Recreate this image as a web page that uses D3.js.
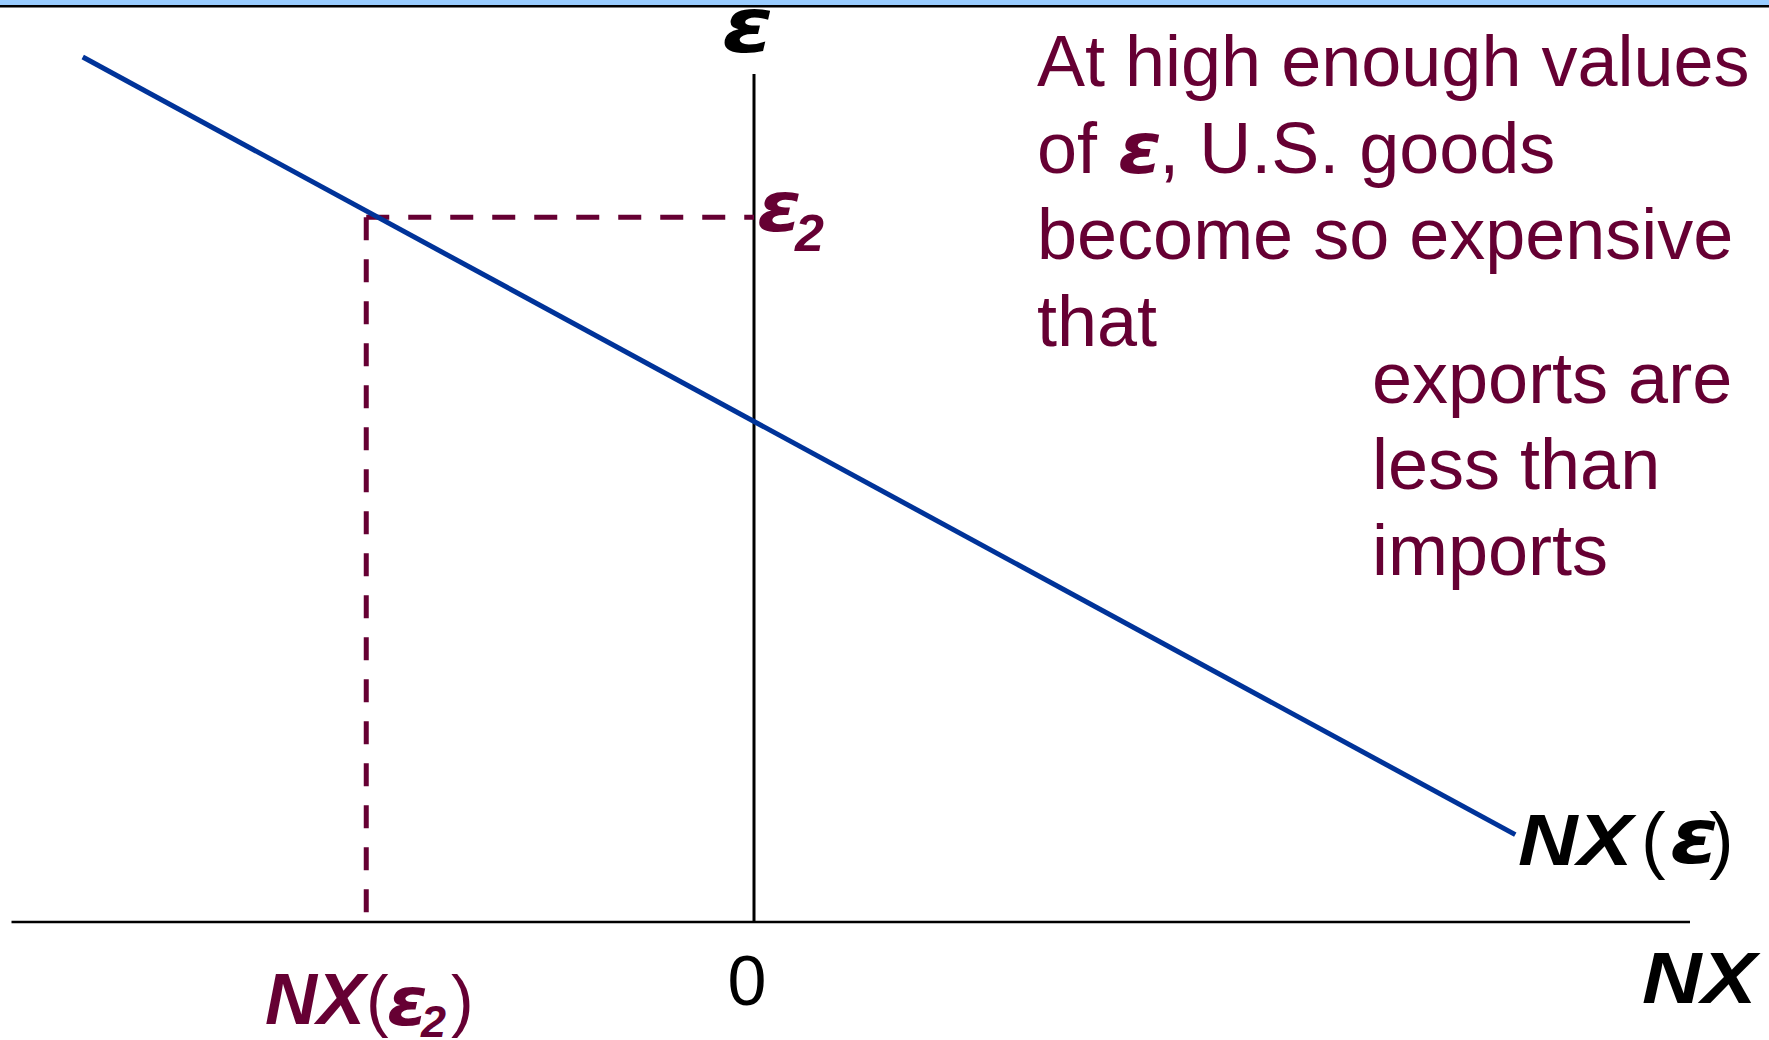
<!DOCTYPE html>
<html>
<head>
<meta charset="utf-8">
<script src="https://cdn.jsdelivr.net/npm/d3@7"></script>
<style>
  html, body { margin: 0; padding: 0; background: #fff; }
  svg { display: block; font-family: "Liberation Sans", Arial, sans-serif; }
</style>
</head>
<body>
<svg id="chart" width="1769" height="1040"></svg>
<script>
// Net exports schedule NX(ε): NX on the horizontal axis, real exchange rate ε on the vertical
const nxRange = [-9.9, 12.48];        // horizontal axis extent (NX units)
const epsRange = [0, 10];             // vertical axis extent (ε units)
const curveNX = [-8.95, 10.15];       // NX at the two ends of the schedule
const curveEps = [10.2, 1.03];        // ε at the two ends of the schedule
const eps2 = 8.31;                    // the high exchange rate ε2
const nxAtEps2 = -5.17;               // net exports at ε2
const zeroTick = ["0"];

const noteBlockA = ["At high enough values", "of |ε|, U.S. goods", "become so expensive", "that"];
const noteBlockB = ["exports are", "less than", "imports"];

const maroon = "#660033";
const blue = "#003399";
const greekFont = "'DejaVu Sans', 'Liberation Sans', sans-serif";

const svg = d3.select("#chart");
const W = 1769;

const x = d3.scaleLinear().domain([-10, 12.5]).range([4, 1691.5]);
const y = d3.scaleLinear().domain(epsRange).range([922, 74]);

// header band
svg.append("rect").attr("x", 0).attr("y", 0).attr("width", W).attr("height", 5).attr("fill", "#99ccff");
svg.append("rect").attr("x", 0).attr("y", 5).attr("width", W).attr("height", 2.5).attr("fill", "#000");

// axes
svg.append("line")
  .attr("x1", x(nxRange[0])).attr("x2", x(nxRange[1]))
  .attr("y1", y(0)).attr("y2", y(0))
  .attr("stroke", "#000").attr("stroke-width", 2.5);
svg.append("line")
  .attr("x1", x(0)).attr("x2", x(0))
  .attr("y1", y(epsRange[0])).attr("y2", y(epsRange[1]))
  .attr("stroke", "#000").attr("stroke-width", 3);

// guide lines at ε2
svg.append("line")
  .attr("x1", x(nxAtEps2)).attr("x2", x(0))
  .attr("y1", y(eps2)).attr("y2", y(eps2))
  .attr("stroke", maroon).attr("stroke-width", 5).attr("stroke-dasharray", "23,19");
svg.append("line")
  .attr("x1", x(nxAtEps2)).attr("x2", x(nxAtEps2))
  .attr("y1", y(eps2)).attr("y2", y(0))
  .attr("stroke", maroon).attr("stroke-width", 5).attr("stroke-dasharray", "23,19");

// NX(ε) schedule
const pts = curveNX.map((v, i) => [v, curveEps[i]]);
svg.append("path")
  .datum(pts)
  .attr("d", d3.line().x(d => x(d[0])).y(d => y(d[1])))
  .attr("fill", "none").attr("stroke", blue).attr("stroke-width", 5);

// one piece of a label: bold-italic pieces may be widened with sx
function piece(xp, yp, str, o) {
  const t = svg.append("text")
    .attr("transform", `translate(${xp},${yp}) scale(${o.sx || 1},1)`)
    .attr("font-size", o.size)
    .attr("font-weight", o.bold ? "bold" : "normal")
    .attr("font-style", o.bold ? "italic" : "normal")
    .attr("fill", o.fill || "#000")
    .text(str);
  if (o.greek) t.attr("font-family", greekFont);
  if (o.anchor) t.attr("text-anchor", o.anchor);
  return t;
}

// ε axis title
piece(722, 52, "ε", {size: 76, bold: true, greek: true, sx: 1.22});
// NX axis title
piece(1642, 1003, "NX", {size: 73, bold: true, sx: 1.13});

// NX(ε) curve label
piece(1518, 865, "NX", {size: 73, bold: true, sx: 1.13});
piece(1641, 865, "(", {size: 74});
piece(1670, 863, "ε", {size: 76, bold: true, greek: true, sx: 1.15});
piece(1709, 865, ")", {size: 74});

// zero on the NX axis
piece(x(0) - 7, 1005, zeroTick[0], {size: 70, anchor: "middle"});

// ε2 label on the vertical axis
piece(x(0) + 3, y(eps2) + 14, "ε", {size: 70, bold: true, greek: true, sx: 1.15, fill: maroon});
piece(x(0) + 41, y(eps2) + 34, "2", {size: 52, bold: true, fill: maroon});

// NX(ε2) label under the horizontal axis
piece(265, 1024, "NX", {size: 72, bold: true, fill: maroon});
piece(366, 1024, "(", {size: 68, fill: maroon});
piece(387, 1025, "ε", {size: 68, bold: true, greek: true, sx: 1.08, fill: maroon});
piece(421, 1037, "2", {size: 45, bold: true, fill: maroon});
piece(451, 1024, ")", {size: 68, fill: maroon});

// annotation text
const noteSize = 72;
function noteLine(xp, yp, str) {
  const segs = str.split("|");
  let cx = xp;
  segs.forEach((seg, i) => {
    if (i % 2 === 1) {
      // inline ε, drawn slightly wider than the running text
      const sx = 1.1;
      const t = piece(cx + 1, yp, seg, {size: 72, bold: true, greek: true, sx: sx, fill: maroon});
      cx += t.node().getComputedTextLength() * sx - 2;
    } else if (seg.length) {
      const t = svg.append("text").attr("x", cx).attr("y", yp)
        .attr("font-size", noteSize).attr("fill", maroon)
        .attr("xml:space", "preserve").style("white-space", "pre")
        .text(seg);
      cx += t.node().getComputedTextLength();
    }
  });
}
noteBlockA.forEach((s, i) => noteLine(1037, 86 + i * 86.7, s));
noteBlockB.forEach((s, i) => noteLine(1372, 403 + i * 86, s));
</script>
</body>
</html>
